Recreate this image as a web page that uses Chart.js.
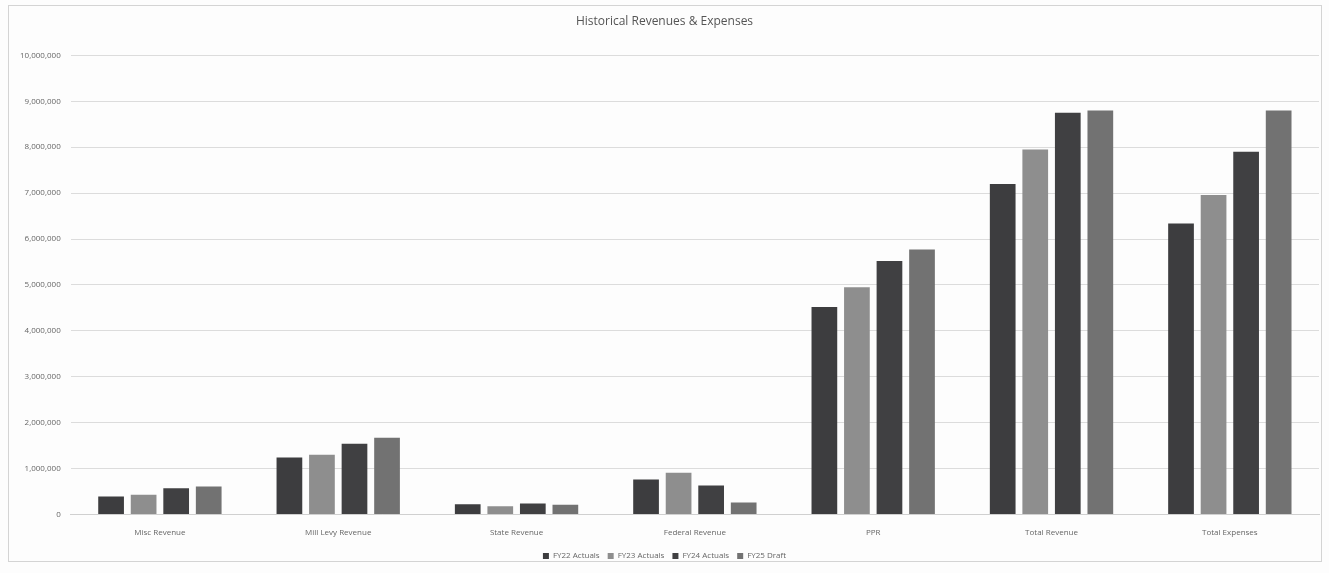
<!DOCTYPE html>
<html>
<head>
<meta charset="utf-8">
<title>Historical Revenues & Expenses</title>
<script src="https://cdn.jsdelivr.net/npm/chart.js@4.4.1/dist/chart.umd.min.js"></script>
<style>
    html, body { margin: 0; padding: 0; background: #fdfdfd; }
    #wrap { position: relative; width: 1329px; height: 573px; }
    #frame {
        position: absolute; left: 8px; top: 5px; width: 1312px; height: 555px;
        border: 1px solid #d4d4d4; pointer-events: none;
    }
</style>
</head>
<body>
<div id="wrap">
    <canvas id="chart" width="1329" height="573"></canvas>
    <div id="frame"></div>
</div>
<script>
const categories = ['Misc Revenue', 'Mill Levy Revenue', 'State Revenue', 'Federal Revenue', 'PPR', 'Total Revenue', 'Total Expenses'];
const seriesNames = ['FY22 Actuals', 'FY23 Actuals', 'FY24 Actuals', 'FY25 Draft'];
const fy22Actuals = [390000, 1240000, 220000, 760000, 4520000, 7200000, 6340000];
const fy23Actuals = [430000, 1300000, 180000, 910000, 4950000, 7950000, 6960000];
const fy24Actuals = [570000, 1540000, 240000, 630000, 5520000, 8750000, 7900000];
const fy25Draft = [610000, 1670000, 210000, 260000, 5770000, 8800000, 8800000];
const seriesColors = ['#3d3d3f', '#8e8e8e', '#404042', '#727272'];

document.addEventListener('DOMContentLoaded', function() {
    const ctx = document.getElementById('chart').getContext('2d');
    const values = [fy22Actuals, fy23Actuals, fy24Actuals, fy25Draft];

    new Chart(ctx, {
        type: 'bar',
        data: {
            labels: categories,
            datasets: seriesNames.map(function(name, i) {
                return {
                    label: name,
                    data: values[i],
                    backgroundColor: seriesColors[i],
                    borderWidth: 0,
                    categoryPercentage: 0.73,
                    barPercentage: 0.79
                };
            })
        },
        options: {
            responsive: false,
            animation: false,
            layout: { padding: { left: 10, right: 10, top: 2, bottom: 3 } },
            plugins: {
                title: {
                    display: true,
                    text: 'Historical Revenues & Expenses',
                    color: '#555555',
                    font: { family: 'Open Sans', size: 12, weight: 'normal' },
                    padding: { top: 12, bottom: 27 }
                },
                legend: {
                    position: 'bottom',
                    labels: {
                        color: '#666666',
                        font: { family: 'Open Sans', size: 8 },
                        boxWidth: 6,
                        boxHeight: 6,
                        padding: 8
                    }
                },
                tooltip: { enabled: false }
            },
            scales: {
                x: {
                    grid: { display: false },
                    border: { color: '#d0d0d0' },
                    ticks: {
                        color: '#666666',
                        font: { family: 'Open Sans', size: 8 },
                        padding: 6
                    }
                },
                y: {
                    min: 0,
                    max: 10000000,
                    grid: { color: '#dcdcdc', drawTicks: false },
                    border: { display: false },
                    ticks: {
                        stepSize: 1000000,
                        color: '#666666',
                        font: { family: 'Open Sans', size: 8 },
                        padding: 10,
                        callback: function(v) { return v.toLocaleString('en-US'); }
                    }
                }
            }
        }
    });
});
</script>
</body>
</html>
